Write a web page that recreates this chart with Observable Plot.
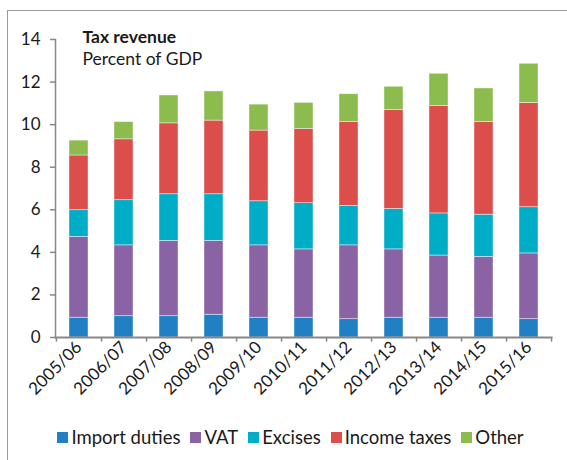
<!DOCTYPE html>
<html><head><meta charset="utf-8">
<script src="https://cdn.jsdelivr.net/npm/d3@7"></script>
<script src="https://cdn.jsdelivr.net/npm/@observablehq/plot@0.6"></script>
<style>
body{margin:0;background:#fff;font-family:Lato,sans-serif;color:#1a1a1a;}
#wrap{position:relative;width:567px;height:460px;overflow:hidden;}
#border{position:absolute;left:7px;top:10px;width:580px;height:470px;border-left:1.5px solid #9a9a9a;border-top:1.5px solid #9a9a9a;box-sizing:border-box;}
#chart{position:absolute;left:0;top:0;}
#legend{position:absolute;left:7px;top:426px;width:567px;display:flex;justify-content:center;align-items:center;font-size:18.5px;}
.item{display:flex;align-items:center;margin:0 5px;}
.sw{width:11px;height:11px;margin-right:3px;}
</style>
</head><body>
<div id="wrap"><div id="border"></div><div id="chart"></div><div id="legend"></div></div>
<script>
const years = ["2005/06","2006/07","2007/08","2008/09","2009/10","2010/11","2011/12","2012/13","2013/14","2014/15","2015/16"];
const importDuties = [0.93,1.00,1.00,1.07,0.93,0.93,0.86,0.93,0.93,0.93,0.86];
const vat          = [3.80,3.33,3.54,3.47,3.40,3.21,3.47,3.21,2.92,2.86,3.09];
const excises      = [1.25,2.12,2.19,2.19,2.07,2.17,1.85,1.90,1.98,1.98,2.17];
const incomeTaxes  = [2.57,2.86,3.33,3.46,3.32,3.49,3.95,4.64,5.05,4.36,4.90];
const other        = [0.70,0.81,1.31,1.37,1.22,1.22,1.30,1.10,1.51,1.57,1.84];
const seriesNames = ["Import duties","VAT","Excises","Income taxes","Other"];
const seriesColors = ["#2080c3","#8a63a5","#00adc6","#dc4e4c","#8cbb4e"];
const yTicks = [0,2,4,6,8,10,12,14];
const chartTitle = "Tax revenue";
const chartSubtitle = "Percent of GDP";

const seriesValues = [importDuties, vat, excises, incomeTaxes, other];
const data = [];
years.forEach((yr, i) => {
  seriesNames.forEach((s, j) => data.push({year: yr, series: s, value: seriesValues[j][i]}));
});

const W = 567, H = 415, mL = 55, mR = 16;
const step = (W - mL - mR) / years.length;

const plot = Plot.plot({
  width: W, height: H,
  marginLeft: mL, marginRight: mR, marginTop: 39, marginBottom: 78,
  style: {fontFamily: "Lato, sans-serif", fontSize: "17px", color: "#1a1a1a", background: "transparent", overflow: "visible"},
  x: {domain: years, paddingInner: 0.58, paddingOuter: 0.29, label: null},
  y: {domain: [0, 14], label: null},
  color: {domain: seriesNames, range: seriesColors},
  marks: [
    Plot.barY(data, {x: "year", y: "value", fill: "series", stroke: "white", strokeWidth: 0.7, strokeOpacity: 0.6}),
    Plot.axisY({ticks: yTicks, tickSize: 5, tickPadding: 10, stroke: "#888", strokeWidth: 1.5, fontSize: 17}),
    Plot.axisX({tickRotate: -45, tickSize: 0, tickPadding: 7, fontSize: 17}),
    Plot.ruleX(years, {x: d => d, dx: step / 2, y1: 0, y2: -0.22, stroke: "#888", strokeWidth: 1.5}),
    Plot.ruleX(years.slice(0, 1), {x: d => d, dx: -step / 2, y1: 0, y2: -0.22, stroke: "#888", strokeWidth: 1.5}),
    Plot.frame({anchor: "left", stroke: "#888", strokeWidth: 1.5}),
    Plot.frame({anchor: "bottom", stroke: "#888", strokeWidth: 2}),
    Plot.text([chartTitle], {text: d => d, frameAnchor: "top-left", dx: 27, dy: -9, textAnchor: "start", lineAnchor: "top", fontWeight: "bold", fontSize: 17.5}),
    Plot.text([chartSubtitle], {text: d => d, frameAnchor: "top-left", dx: 27, dy: 13, textAnchor: "start", lineAnchor: "top", fontSize: 17.5})
  ]
});
document.getElementById("chart").appendChild(plot);

const legend = document.getElementById("legend");
seriesNames.forEach((s, j) => {
  const it = document.createElement("div"); it.className = "item";
  const sw = document.createElement("div"); sw.className = "sw"; sw.style.background = seriesColors[j];
  const tx = document.createElement("span"); tx.textContent = s;
  it.appendChild(sw); it.appendChild(tx); legend.appendChild(it);
});
</script>
</body></html>
